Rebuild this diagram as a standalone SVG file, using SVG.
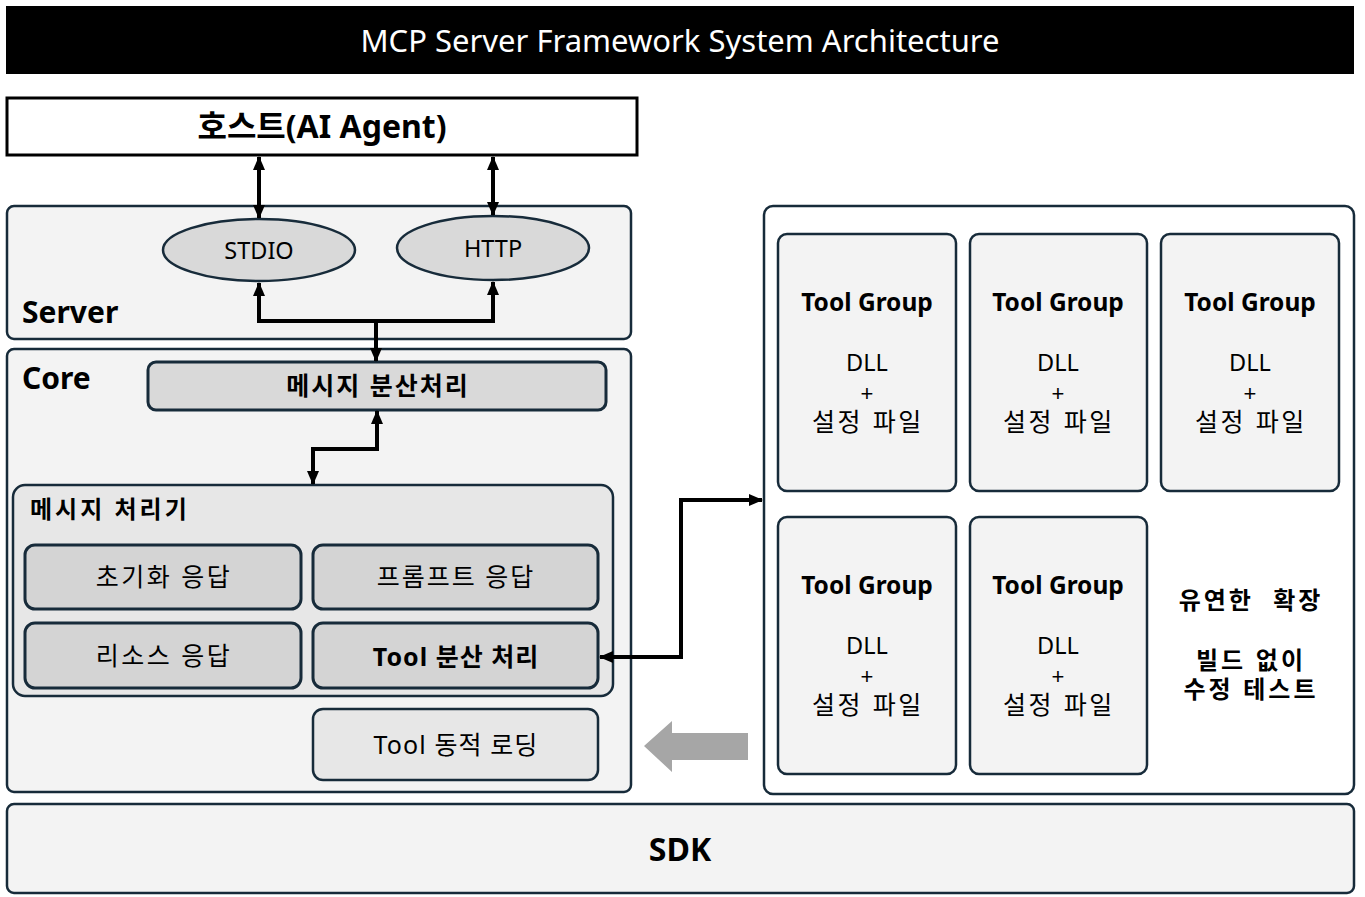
<svg xmlns="http://www.w3.org/2000/svg" width="1365" height="897" viewBox="0 0 1365 897">
<defs>
<style>
text{font-family:"Noto Sans","Noto Sans CJK KR",sans-serif;fill:#000}
.b{font-weight:bold}
.c{text-anchor:middle}
.box{stroke:#172b3a;stroke-width:2.5}
.inner{stroke:#172b3a;stroke-width:3}
.con{fill:none;stroke:#000;stroke-width:4}
.tg{font-size:24.5px;font-weight:bold}
.dll{font-size:23.5px}
.plus{font-size:22px;font-family:"Liberation Sans","Noto Sans CJK KR",sans-serif}
.cfg{font-size:25px;letter-spacing:2.6px;font-family:"Liberation Sans","Noto Sans CJK KR",sans-serif}
.note{font-size:24px;font-weight:bold;letter-spacing:3px;font-family:"Liberation Sans","Noto Sans CJK KR",sans-serif}
.resp{font-size:25px;letter-spacing:2.5px}
</style>
<marker id="ah" markerUnits="userSpaceOnUse" markerWidth="14" markerHeight="14" viewBox="0 0 14 14" refX="13" refY="7" orient="auto-start-reverse">
<path d="M0,1 L14,7 L0,13 Z" fill="#000"/>
</marker>
</defs>
<rect width="1365" height="897" fill="#fff"/>

<g id="title">
<rect x="6" y="6" width="1348" height="68" fill="#000"/>
<text x="680" y="52" class="c" font-size="31" style="fill:#fff">MCP Server Framework System Architecture</text>
</g>

<g id="host">
<rect x="7" y="98" width="630" height="57" fill="#fff" stroke="#000" stroke-width="3"/>
<text x="322" y="138" class="c b" font-size="32">호스트(AI Agent)</text>
</g>

<g id="server">
<rect x="7" y="206" width="624" height="133" rx="7" fill="#f3f3f3" class="box"/>
<text x="22" y="323" class="b" font-size="30">Server</text>
</g>

<g id="stdio">
<ellipse cx="259" cy="250" rx="96" ry="31" fill="#d9d9d9" class="box"/>
<text x="259" y="259" class="c" font-size="23.5">STDIO</text>
</g>

<g id="http">
<ellipse cx="493" cy="248" rx="96" ry="32" fill="#d9d9d9" class="box"/>
<text x="493" y="257" class="c" font-size="23.5">HTTP</text>
</g>

<g id="core">
<rect x="7" y="349" width="624" height="443" rx="7" fill="#f3f3f3" class="box"/>
<text x="22" y="389" class="b" font-size="30">Core</text>
</g>

<g id="dispatch">
<rect x="148" y="362" width="458" height="48" rx="8" fill="#d9d9d9" class="inner"/>
<text x="378" y="395" class="c b" font-size="25" letter-spacing="2">메시지 분산처리</text>
</g>

<g id="processor">
<rect x="13" y="485" width="600" height="211" rx="12" fill="#e7e7e7" class="box"/>
<text x="30" y="518" class="b" font-size="24" letter-spacing="3">메시지 처리기</text>
</g>

<g id="init">
<rect x="25" y="545" width="276" height="64" rx="10" fill="#d4d4d4" class="inner"/>
<text x="164" y="586" class="c resp">초기화 응답</text>
</g>
<g id="prompt">
<rect x="313" y="545" width="285" height="64" rx="10" fill="#d4d4d4" class="inner"/>
<text x="456" y="586" class="c" font-size="25" letter-spacing="2">프롬프트 응답</text>
</g>
<g id="resource">
<rect x="25" y="623" width="276" height="65" rx="10" fill="#d4d4d4" class="inner"/>
<text x="164" y="665" class="c resp">리소스 응답</text>
</g>
<g id="tooldispatch">
<rect x="313" y="623" width="285" height="65" rx="10" fill="#d4d4d4" class="inner"/>
<text x="456" y="666" class="c b" font-size="25" letter-spacing="1">Tool 분산 처리</text>
</g>
<g id="toolload">
<rect x="313" y="709" width="285" height="71" rx="10" fill="#e7e7e7" class="box"/>
<text x="456" y="754" class="c" font-size="25" letter-spacing="1.1">Tool 동적 로딩</text>
</g>

<g id="plugins">
<rect x="764" y="206" width="590" height="588" rx="9" fill="#fff" class="box"/>
</g>

<g id="tg1">
<rect x="778" y="234" width="178" height="257" rx="9" fill="#f3f3f3" class="box"/>
<text x="867" y="311" class="c tg">Tool Group</text>
<text x="867" y="371" class="c dll">DLL</text>
<text x="867" y="401" class="c plus">+</text>
<text x="868" y="431" class="c cfg">설정 파일</text>
</g>
<g id="tg2">
<rect x="970" y="234" width="177" height="257" rx="9" fill="#f3f3f3" class="box"/>
<text x="1058" y="311" class="c tg">Tool Group</text>
<text x="1058" y="371" class="c dll">DLL</text>
<text x="1058" y="401" class="c plus">+</text>
<text x="1059" y="431" class="c cfg">설정 파일</text>
</g>
<g id="tg3">
<rect x="1161" y="234" width="178" height="257" rx="9" fill="#f3f3f3" class="box"/>
<text x="1250" y="311" class="c tg">Tool Group</text>
<text x="1250" y="371" class="c dll">DLL</text>
<text x="1250" y="401" class="c plus">+</text>
<text x="1251" y="431" class="c cfg">설정 파일</text>
</g>
<g id="tg4">
<rect x="778" y="517" width="178" height="257" rx="9" fill="#f3f3f3" class="box"/>
<text x="867" y="594" class="c tg">Tool Group</text>
<text x="867" y="654" class="c dll">DLL</text>
<text x="867" y="684" class="c plus">+</text>
<text x="868" y="714" class="c cfg">설정 파일</text>
</g>
<g id="tg5">
<rect x="970" y="517" width="177" height="257" rx="9" fill="#f3f3f3" class="box"/>
<text x="1058" y="594" class="c tg">Tool Group</text>
<text x="1058" y="654" class="c dll">DLL</text>
<text x="1058" y="684" class="c plus">+</text>
<text x="1059" y="714" class="c cfg">설정 파일</text>
</g>
<g id="note">
<text x="1251" y="609" class="c note" xml:space="preserve">유연한  확장</text>
<text x="1251" y="669" class="c note">빌드 없이</text>
<text x="1251" y="698" class="c note">수정 테스트</text>
</g>

<g id="sdk">
<rect x="7" y="804" width="1347" height="89" rx="7" fill="#f3f3f3" class="box"/>
<text x="680" y="861" class="c b" font-size="32">SDK</text>
</g>

<g id="connectors">
<line x1="259" y1="157" x2="259" y2="218" class="con" marker-start="url(#ah)" marker-end="url(#ah)"/>
<line x1="493" y1="157" x2="493" y2="215" class="con" marker-start="url(#ah)" marker-end="url(#ah)"/>
<polyline points="259,283 259,321 493,321 493,282" class="con" marker-start="url(#ah)" marker-end="url(#ah)"/>
<line x1="376" y1="321" x2="376" y2="361" class="con" marker-end="url(#ah)"/>
<polyline points="377,411 377,449 313,449 313,484" class="con" marker-start="url(#ah)" marker-end="url(#ah)"/>
<polyline points="600,657 681,657 681,500 762,500" class="con" marker-start="url(#ah)" marker-end="url(#ah)"/>
<polygon points="748,733 672,733 672,721 644,746 672,772 672,760 748,760" fill="#a6a6a6"/>
</g>
</svg>
